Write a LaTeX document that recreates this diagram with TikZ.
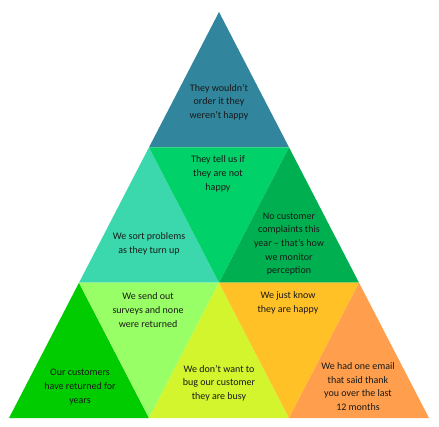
\documentclass[tikz,border=0pt]{standalone}
\usepackage{fontspec}
\setmainfont{Carlito}
\definecolor{tealtop}{HTML}{31859C}
\definecolor{aquaL}{HTML}{3CD8AD}
\definecolor{greenM}{HTML}{00D168}
\definecolor{greenR}{HTML}{00B050}
\definecolor{greenB}{HTML}{00CC00}
\definecolor{limeL}{HTML}{99FF66}
\definecolor{limeM}{HTML}{D2F52D}
\definecolor{goldM}{HTML}{FFC125}
\definecolor{orangeR}{HTML}{FF9F4D}

\begin{document}
\begin{tikzpicture}[x=1pt, y=-1pt, every node/.style={font=\fontsize{10}{13.7}\selectfont, align=center, text=black!90}]
	\useasboundingbox (0,0) rectangle (439,426);
	% corners, row by row
	\coordinate (p00) at (219,12);
	\coordinate (p10) at (149,147.3); \coordinate (p11) at (289,147.3);
	\coordinate (p20) at (79,282.7); \coordinate (p21) at (219,282.7); \coordinate (p22) at (359,282.7);
	\coordinate (p30) at (9,418); \coordinate (p31) at (149,418); \coordinate (p32) at (289,418); \coordinate (p33) at (429,418);
	% top row
	\fill[tealtop] (p00) -- (p10) -- (p11) -- cycle;
	% middle row
	\fill[aquaL] (p10) -- (p20) -- (p21) -- cycle;
	\fill[greenM] (p10) -- (p11) -- (p21) -- cycle;
	\fill[greenR] (p11) -- (p21) -- (p22) -- cycle;
	% bottom row
	\fill[greenB] (p20) -- (p30) -- (p31) -- cycle;
	\fill[limeL] (p20) -- (p21) -- (p31) -- cycle;
	\fill[limeM] (p21) -- (p31) -- (p32) -- cycle;
	\fill[goldM] (p21) -- (p22) -- (p32) -- cycle;
	\fill[orangeR] (p22) -- (p32) -- (p33) -- cycle;
	% texts
	\node (order) at (219,102) {They wouldn’t\\order it they\\weren’t happy};
	\node (tell) at (218,174) {They tell us if\\they are not\\happy};
	\node (sort) at (149,244) {We sort problems\\as they turn up};
	\node (complaints) at (289,244) {No customer\\complaints this\\year – that’s how\\we monitor\\perception};
	\node (surveys) at (148,310) {We send out\\surveys and none\\were returned};
	\node (know) at (288,303) {We just know\\they are happy};
	\node (returned) at (80,387) {Our customers\\have returned for\\years};
	\node (bug) at (219,383) {We don’t want to\\bug our customer\\they are busy};
	\node (email) at (358,386.5) {We had one email\\that said thank\\you over the last\\12 months};
\end{tikzpicture}
\end{document}
